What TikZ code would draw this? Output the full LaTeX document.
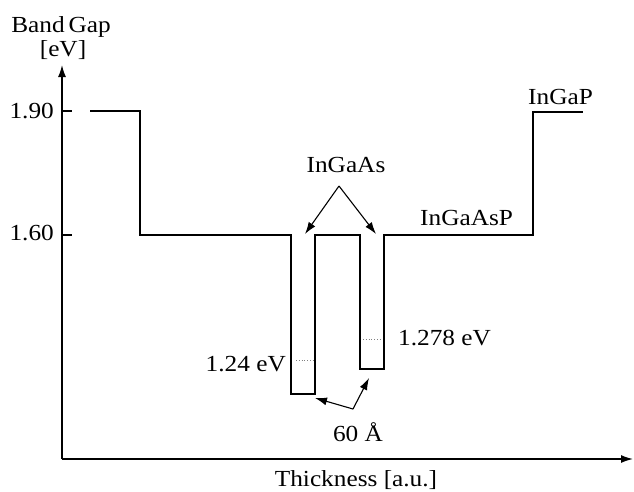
\documentclass[tikz,border=0pt]{standalone}
\usepackage{fontspec}
\setmainfont{Liberation Serif}[FakeStretch=1.1]
\usetikzlibrary{arrows.meta}
\begin{document}
\begin{tikzpicture}[x=1pt,y=-1pt,
  lbl/.style={inner sep=0pt, font=\fontsize{23}{26}\selectfont},
  axis/.style={line width=1.4pt, -{Latex[length=12pt,width=8pt]}},
  band/.style={line width=1.1pt},
  ptr/.style={line width=1.1pt, -{Latex[length=12pt,width=8pt]}},
  dots/.style={line width=0.8pt, dotted, gray}]
\useasboundingbox (0,0) rectangle (634,491);
% axes
\coordinate (O) at (62,459);
\coordinate (Ytip) at (62,65);
\coordinate (Xtip) at (633,459);
\draw[axis] (O) -- (Ytip);
\draw[axis] (O) -- (Xtip);
% ticks
\coordinate (t1a) at (62,111); \coordinate (t1b) at (72,111);
\coordinate (t2a) at (62,235); \coordinate (t2b) at (72,235);
\draw[line width=1.1pt] (t1a) -- (t1b);
\draw[line width=1.1pt] (t2a) -- (t2b);
% band profile
\coordinate (p0) at (90,111);
\coordinate (p1) at (140,111);
\coordinate (p2) at (140,235);
\coordinate (p3) at (291,235);
\coordinate (p4) at (291,394);
\coordinate (p5) at (315,394);
\coordinate (p6) at (315,235);
\coordinate (p7) at (360,235);
\coordinate (p8) at (360,369);
\coordinate (p9) at (384,369);
\coordinate (p10) at (384,235);
\coordinate (p11) at (533,235);
\coordinate (p12) at (533,112);
\coordinate (p13) at (583,112);
\draw[band] (p0) -- (p1) -- (p2) -- (p3) -- (p4) -- (p5) -- (p6) -- (p7) -- (p8) -- (p9) -- (p10) -- (p11) -- (p12) -- (p13);
% dotted levels
\coordinate (d1a) at (296,360); \coordinate (d1b) at (313,360);
\coordinate (d2a) at (363,339); \coordinate (d2b) at (382,339);
\draw[dots] (d1a) -- (d1b);
\draw[dots] (d2a) -- (d2b);
% labels
\node[lbl, anchor=base] (bg) at (61,32) {Band\,Gap};
\node[lbl, anchor=base] (ev) at (63,56) {[eV]};
\node[lbl, anchor=base east] (l190) at (54,118) {1.90};
\node[lbl, anchor=base east] (l160) at (54,240) {1.60};
\node[lbl, anchor=base west] (ingap) at (528,104) {InGaP};
\node[lbl, anchor=base west] (ingaasp) at (420,225) {InGaAsP};
\node[lbl, anchor=base] (ingaas) at (346,172) {InGaAs};
\node[lbl, anchor=base east] (e124) at (286,371) {1.24 eV};
\node[lbl, anchor=base west] (e1278) at (398,345) {1.278 eV};
\node[lbl, anchor=base] (w60) at (358,441) {60 Å};
\node[lbl, anchor=base] (thick) at (356,486) {Thickness [a.u.]};
% InGaAs pointers
\coordinate (apex) at (339,186);
\coordinate (tipL) at (305,234);
\coordinate (tipR) at (376,234);
\draw[ptr] (apex) -- (tipL);
\draw[ptr] (apex) -- (tipR);
% 60 A pointers
\coordinate (corner) at (353,409);
\coordinate (tipW1) at (315,398);
\coordinate (tipW2) at (369,378);
\draw[ptr] (corner) -- (tipW1);
\draw[ptr] (corner) -- (tipW2);
\end{tikzpicture}
\end{document}
